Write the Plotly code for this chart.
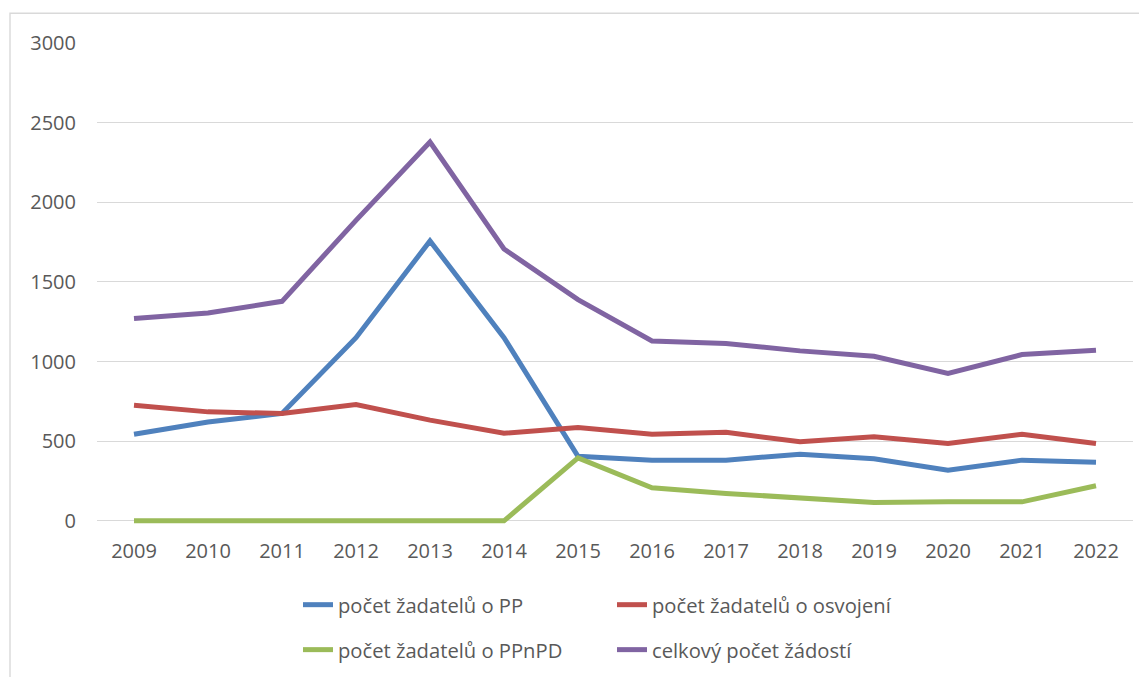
import plotly.graph_objects as go

years = ["2009", "2010", "2011", "2012", "2013", "2014", "2015", "2016", "2017", "2018", "2019", "2020", "2021", "2022"]
pp = [544, 621, 674, 1150, 1757, 1150, 405, 381, 381, 418, 389, 318, 381, 368]
osvojeni = [726, 684, 674, 730, 632, 550, 586, 544, 556, 496, 527, 485, 544, 485]
ppnpd = [0, 0, 0, 0, 0, 0, 395, 207, 172, 147, 115, 119, 119, 220]
celkem = [1270, 1305, 1378, 1886, 2378, 1707, 1389, 1129, 1113, 1067, 1033, 925, 1044, 1071]

names = ["počet žadatelů o PP", "počet žadatelů o osvojení", "počet žadatelů o PPnPD", "celkový počet žádostí"]
colors = ["#4F81BD", "#C0504D", "#9BBB59", "#8064A2"]
series = [pp, osvojeni, ppnpd, celkem]
legends = ["legend", "legend", "legend2", "legend2"]

FONT = "Open Sans"
GREY = "#595959"

fig = go.Figure()
for name, col, vals, lg in zip(names, colors, series, legends):
    fig.add_trace(go.Scatter(x=years, y=vals, name=name, mode="lines",
                             line=dict(color=col, width=5), legend=lg))

# page body has an 8px margin; work in page coordinates and shift
OFF = 8
PW, PH = 1147, 677
W, H = PW - OFF, PH - OFF
YMIN, YMAX = -20, 3000
scale = 478.2 / 3000.0          # px per unit
extra = -YMIN * scale           # room below zero so the line at 0 isn't clipped
L, R, T = 97 - OFF, 14, 42.5 - OFF
B = 156.3 - extra
pw = W - L - R
ph = H - T - B

def px2x(px):
    return (px - OFF - L) / pw

def py2y(py):
    return (H - B - (py - OFF)) / ph

leg_common = dict(orientation="h", font=dict(family=FONT, size=20.2, color=GREY),
                  entrywidth=269, entrywidthmode="pixels", bgcolor="rgba(0,0,0,0)",
                  xanchor="left", yanchor="middle", itemwidth=30)

fig.update_layout(
    width=W, height=H,
    margin=dict(l=L, r=R, t=T, b=B, autoexpand=False),
    paper_bgcolor="white", plot_bgcolor="white",
    font=dict(family=FONT, size=20, color=GREY),
    showlegend=True,
    legend=dict(x=px2x(298), y=py2y(605), **leg_common),
    legend2=dict(x=px2x(298), y=py2y(650), **leg_common),
    xaxis=dict(type="category", range=[-0.5, 13.5], showgrid=False, showline=False,
               zeroline=False, ticks="", tickfont=dict(family=FONT, size=20, color=GREY),
               ticklabelstandoff=13, fixedrange=True),
    yaxis=dict(range=[YMIN, YMAX], tick0=0, dtick=500, showgrid=True, gridcolor="#D9D9D9", gridwidth=1.4,
               zeroline=True, zerolinecolor="#D9D9D9", zerolinewidth=1.4, showline=False,
               ticks="", tickfont=dict(family=FONT, size=20, color=GREY),
               ticklabelstandoff=20, fixedrange=True),
    shapes=[dict(type="rect", xref="paper", yref="paper",
                 x0=px2x(10), x1=px2x(PW + 20), y0=py2y(PH + 20), y1=py2y(12.7),
                 line=dict(color="#D9D9D9", width=1.4), fillcolor="rgba(0,0,0,0)", layer="below")],
)

fig.write_html("out.html")
